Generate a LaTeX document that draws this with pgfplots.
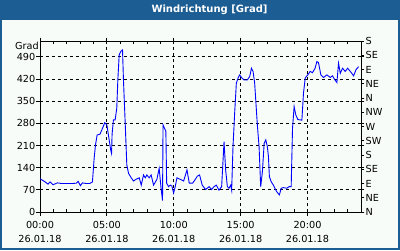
\documentclass[border=0pt]{standalone}
\usepackage{pgfplots}
\pgfplotsset{compat=1.18}
\usepackage{fontspec}
\setmainfont{DejaVu Sans}
\definecolor{frameblue}{RGB}{28,94,148}
\definecolor{bgc}{RGB}{248,252,248}
\pgfplotstableread{
h v
0.00 105
0.35 96
0.60 88
0.75 95
0.97 86
1.30 92
1.60 90
2.00 90
2.40 90
2.72 91
2.85 97
3.02 83
3.17 92
3.45 90
3.72 90
3.92 95
4.05 170
4.15 212
4.27 243
4.49 246
4.67 264
4.84 282
5.00 275
5.17 228
5.29 195
5.35 185
5.39 246
5.49 291
5.62 291
5.74 328
5.82 417
5.92 496
6.04 507
6.17 512
6.24 417
6.37 281
6.49 149
6.62 122
6.82 108
6.99 98
7.17 103
7.42 108
7.57 85
7.74 117
7.87 108
7.99 117
8.16 108
8.31 117
8.49 85
8.74 103
8.91 138
9.04 80
9.16 36
9.20 275
9.30 265
9.41 255
9.47 91
9.61 80
9.74 85
9.86 82
9.99 60
10.11 80
10.24 108
10.49 103
10.74 98
10.99 133
11.16 91
11.41 91
11.61 103
11.76 113
11.93 117
12.13 85
12.38 71
12.64 80
12.83 71
13.01 80
13.18 85
13.38 69
13.58 80
13.76 222
13.88 133
14.01 80
14.13 75
14.26 85
14.33 69
14.43 206
14.56 317
14.68 407
14.81 423
14.93 433
15.06 425
15.26 417
15.50 417
15.68 428
15.81 454
15.93 444
16.05 407
16.25 275
16.38 206
16.50 80
16.63 128
16.76 217
16.88 228
17.00 206
17.08 175
17.15 112
17.28 96
17.45 85
17.70 64
17.90 54
18.03 75
18.20 77
18.45 75
18.63 80
18.78 80
18.88 264
19.00 333
19.13 306
19.28 292
19.58 290
19.70 375
19.83 423
20.02 433
20.20 444
20.37 440
20.57 454
20.70 475
20.82 472
21.00 433
21.20 425
21.45 433
21.70 425
21.87 430
22.02 419
22.20 409
22.32 470
22.45 438
22.62 454
22.82 444
23.00 454
23.20 444
23.45 430
23.62 449
23.82 459
}\winddata
\begin{document}
\begin{tikzpicture}
\fill[frameblue] (0pt,0pt) rectangle (400pt,250pt);
\path[use as bounding box] (0pt,0pt) rectangle (400pt,250pt);
\fill[bgc] (2pt,2pt) rectangle (398pt,230pt);
\node[text=white,font=\fontsize{10}{12}\selectfont\bfseries] at (209.5pt,240pt) {Windrichtung [Grad]};
\begin{axis}[
  at={(40pt,38pt)}, anchor=south west,
  scale only axis, width=321pt, height=171pt,
  xmin=0, xmax=24, ymin=0, ymax=540,
  axis line style={line width=0.8pt},
  tick style={black, line width=0.8pt},
  major tick length=3.5pt,
  tick align=outside,
  xtick={0,5,10,15,20},
  xticklabels={{00:00\\26.01.18},{05:00\\26.01.18},{10:00\\26.01.18},{15:00\\26.01.18},{20:00\\26.01.18}},
  xticklabel style={align=center, font=\fontsize{9.7}{13.5}\selectfont, inner sep=1pt, yshift=-5pt},
  ytick={0,70,140,210,280,350,420,490},
  yticklabel style={font=\fontsize{9.7}{11}\selectfont, inner sep=1pt},
  /pgf/number format/assume math mode=true,
  xmajorgrids, ymajorgrids,
  grid style={black, dash pattern=on 3pt off 3pt, line width=0.8pt},
  extra x ticks={1,2,3,4,6,7,8,9,11,12,13,14,16,17,18,19,21,22,23},
  extra x tick labels={},
  extra x tick style={grid=none, tick align=inside, major tick length=3pt},
  extra y ticks={525},
  extra y tick labels={Grad},
  extra y tick style={grid=none, major tick length=0pt},
  clip=false,
]
\addplot[color={rgb,255:red,0;green,0;blue,255}, line width=0.9pt, mark=none] table[x=h,y=v] {\winddata};
\end{axis}
\begin{axis}[
  at={(40pt,38pt)}, anchor=south west,
  scale only axis, width=321pt, height=171pt,
  xmin=0, xmax=24, ymin=0, ymax=540,
  axis x line=none, axis y line*=right,
  axis line style={line width=0.8pt},
  tick style={black, line width=0.8pt},
  major tick length=3.5pt,
  tick align=outside,
  ytick={0,45,90,135,180,225,270,315,360,405,450,495,540},
  yticklabels={N,NE,E,SE,S,SW,W,NW,N,NE,E,SE,S},
  yticklabel style={font=\fontsize{9.7}{11}\selectfont, inner sep=1pt},
]
\addplot[draw=none] coordinates {(0,0)};
\end{axis}
\end{tikzpicture}
\end{document}
